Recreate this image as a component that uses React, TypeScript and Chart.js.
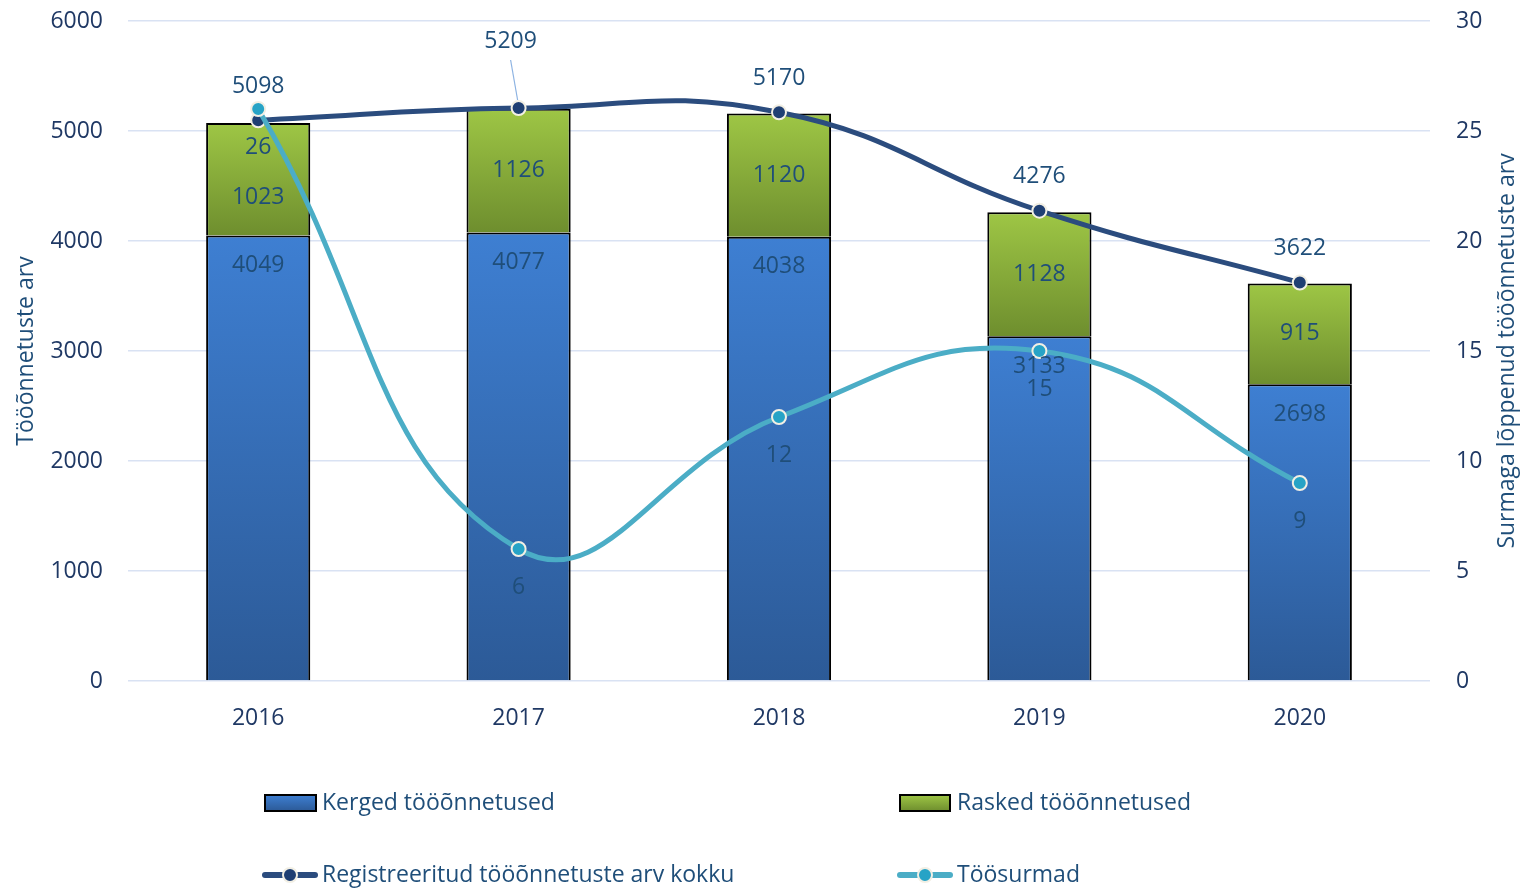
import React, { useEffect, useRef } from "react";
import { Chart, registerables } from "chart.js";

Chart.register(...registerables);

const years = ["2016", "2017", "2018", "2019", "2020"];
const kerged = [4049, 4077, 4038, 3133, 2698];
const rasked = [1023, 1126, 1120, 1128, 915];
const total = [5098, 5209, 5170, 4276, 3622];
const deaths = [26, 6, 12, 15, 9];

const leftTitle = "Tööõnnetuste arv";
const rightTitle = "Surmaga lõppenud tööõnnetuste arv";
const legendNames = [
  "Kerged tööõnnetused",
  "Rasked tööõnnetused",
  "Registreeritud tööõnnetuste arv kokku",
  "Töösurmad",
];

const FONT = "'Open Sans', 'Noto Sans', sans-serif";
const TXT = "#1F4E79";
const TICK = "#1F3864";
const FS = 23;

function blueGrad(ctx: CanvasRenderingContext2D, top: number, bottom: number) {
  const g = ctx.createLinearGradient(0, top, 0, bottom);
  g.addColorStop(0, "#3E7FD2");
  g.addColorStop(1, "#2C5A97");
  return g;
}
function greenGrad(ctx: CanvasRenderingContext2D, top: number, bottom: number) {
  const g = ctx.createLinearGradient(0, top, 0, bottom);
  g.addColorStop(0, "#9EC645");
  g.addColorStop(1, "#6E8E2E");
  return g;
}

const overlayPlugin = {
  id: "overlay",
  afterDatasetsDraw(chart: any) {
    const ctx: CanvasRenderingContext2D = chart.ctx;
    const x = chart.scales.x;
    const y = chart.scales.y;
    const y1 = chart.scales.y1;
    ctx.save();
    ctx.textAlign = "center";
    ctx.textBaseline = "middle";
    ctx.fillStyle = TXT;
    ctx.font = `${FS}px ${FONT}`;
    years.forEach((_, i) => {
      const cx = x.getPixelForValue(i);
      const kTop = y.getPixelForValue(kerged[i]);
      ctx.fillText(String(kerged[i]), cx, kTop + 30);
      const rTop = y.getPixelForValue(kerged[i] + rasked[i]);
      const mid = (rTop + kTop) / 2 + (i === 0 ? 18 : 0);
      ctx.fillText(String(rasked[i]), cx, mid);
      const dy = y1.getPixelForValue(deaths[i]);
      ctx.fillText(String(deaths[i]), cx, dy + 38);
      const ty = y.getPixelForValue(total[i]);
      if (i === 1) {
        ctx.strokeStyle = "#8DB3E2";
        ctx.lineWidth = 1.2;
        ctx.beginPath();
        ctx.moveTo(cx - 8, ty - 48);
        ctx.lineTo(cx - 1, ty - 8);
        ctx.stroke();
        ctx.fillText(String(total[i]), cx - 8, ty - 67);
      } else {
        ctx.fillText(String(total[i]), cx, ty - 34);
      }
    });
    ctx.restore();
  },
  afterDraw(chart: any) {
    const ctx: CanvasRenderingContext2D = chart.ctx;
    ctx.save();
    ctx.fillStyle = TXT;
    ctx.textAlign = "center";
    ctx.textBaseline = "middle";
    ctx.font = `${FS}px ${FONT}`;
    ctx.save();
    ctx.translate(26, 351);
    ctx.rotate(-Math.PI / 2);
    ctx.fillText(leftTitle, 0, 0);
    ctx.restore();
    ctx.save();
    ctx.translate(1507, 351);
    ctx.rotate(-Math.PI / 2);
    ctx.fillText(rightTitle, 0, 0);
    ctx.restore();

    ctx.font = `${FS}px ${FONT}`;
    ctx.textAlign = "left";
    const drawBox = (x0: number, x1: number, yc: number, grad: any) => {
      ctx.fillStyle = grad;
      ctx.fillRect(x0, yc - 8, x1 - x0, 16);
      ctx.strokeStyle = "#000";
      ctx.lineWidth = 2;
      ctx.strokeRect(x0, yc - 8, x1 - x0, 16);
    };
    const drawLine = (x0: number, x1: number, yc: number, col: string, dot: string) => {
      ctx.strokeStyle = col;
      ctx.lineWidth = 6;
      ctx.lineCap = "round";
      ctx.beginPath();
      ctx.moveTo(x0, yc);
      ctx.lineTo(x1, yc);
      ctx.stroke();
      ctx.beginPath();
      ctx.arc((x0 + x1) / 2, yc, 7, 0, Math.PI * 2);
      ctx.fillStyle = dot;
      ctx.fill();
      ctx.lineWidth = 2;
      ctx.strokeStyle = "#F2EFE4";
      ctx.stroke();
    };
    drawBox(265, 316, 803, blueGrad(ctx, 795, 811));
    drawBox(900, 950, 803, greenGrad(ctx, 795, 811));
    drawLine(265, 315, 875, "#2B4C7E", "#1F3F73");
    drawLine(900, 950, 875, "#4BADC6", "#27A3C6");
    ctx.fillStyle = TXT;
    ctx.fillText(legendNames[0], 322, 803);
    ctx.fillText(legendNames[1], 957, 803);
    ctx.fillText(legendNames[2], 322, 875);
    ctx.fillText(legendNames[3], 957, 875);
    ctx.restore();
  },
};

export default function App() {
  const ref = useRef<HTMLCanvasElement | null>(null);
  useEffect(() => {
    document.body.style.margin = "0";
    const canvas = ref.current;
    if (!canvas) return;
    const chart = new Chart(canvas, {
      data: {
        labels: years,
        datasets: [
          {
            type: "line",
            label: legendNames[3],
            data: deaths,
            yAxisID: "y1",
            order: 0,
            borderColor: "#4BADC6",
            borderWidth: 5,
            tension: 0.45,
            pointRadius: 7,
            pointBackgroundColor: "#27A3C6",
            pointBorderColor: "#F2EFE4",
            pointBorderWidth: 2,
          },
          {
            type: "line",
            label: legendNames[2],
            data: total,
            yAxisID: "y",
            stack: "tot",
            order: 1,
            borderColor: "#2B4C7E",
            borderWidth: 5,
            tension: 0.45,
            pointRadius: 7,
            pointBackgroundColor: "#1F3F73",
            pointBorderColor: "#F2EFE4",
            pointBorderWidth: 2,
          },
          {
            type: "bar",
            label: legendNames[0],
            data: kerged,
            yAxisID: "y",
            stack: "s",
            order: 2,
            backgroundColor: (c: any) => {
              const ch = c.chart;
              const ys = ch.scales && ch.scales.y;
              if (!ys || !ch.chartArea || c.dataIndex === undefined) return "#3570BF";
              const v = kerged[c.dataIndex];
              return blueGrad(ch.ctx, ys.getPixelForValue(v), ys.getPixelForValue(0));
            },
            borderColor: "#000",
            borderWidth: 2,
            barPercentage: 0.8,
            categoryPercentage: 0.5,
          },
          {
            type: "bar",
            label: legendNames[1],
            data: rasked,
            yAxisID: "y",
            stack: "s",
            order: 3,
            backgroundColor: (c: any) => {
              const ch = c.chart;
              const ys = ch.scales && ch.scales.y;
              if (!ys || !ch.chartArea || c.dataIndex === undefined) return "#86AA3A";
              const i = c.dataIndex;
              return greenGrad(
                ch.ctx,
                ys.getPixelForValue(kerged[i] + rasked[i]),
                ys.getPixelForValue(kerged[i])
              );
            },
            borderColor: "#000",
            borderWidth: 2,
            barPercentage: 0.8,
            categoryPercentage: 0.5,
          },
        ],
      } as any,
      options: {
        responsive: false,
        animation: false,
        layout: { padding: { top: 21 } },
        plugins: { legend: { display: false }, tooltip: { enabled: false } },
        scales: {
          x: {
            stacked: true,
            grid: { display: false, drawTicks: false },
            border: { display: false },
            ticks: { color: TICK, font: { family: FONT, size: FS }, padding: 24 },
            afterFit: (s: any) => {
              s.height = 209;
            },
          },
          y: {
            position: "left",
            stacked: true,
            min: 0,
            max: 6000,
            ticks: {
              stepSize: 1000,
              color: TICK,
              font: { family: FONT, size: FS },
              padding: 25,
              callback: (v: any) => String(v),
            },
            grid: { color: "#D9E2F3", lineWidth: 1.5, drawTicks: false },
            border: { display: false },
            afterFit: (s: any) => {
              s.width = 128;
              s.paddingTop = 10;
              s.paddingBottom = 10;
            },
          },
          y1: {
            position: "right",
            min: 0,
            max: 30,
            ticks: {
              stepSize: 5,
              color: TICK,
              font: { family: FONT, size: FS },
              padding: 26,
              callback: (v: any) => String(v),
            },
            grid: { drawOnChartArea: false, drawTicks: false },
            border: { display: false },
            afterFit: (s: any) => {
              s.width = 98;
              s.paddingTop = 10;
              s.paddingBottom = 10;
            },
          },
        },
      } as any,
      plugins: [overlayPlugin],
    });
    return () => chart.destroy();
  }, []);
  return (
    <div style={{ width: 1528, height: 890 }}>
      <canvas ref={ref} width={1528} height={890} />
    </div>
  );
}
